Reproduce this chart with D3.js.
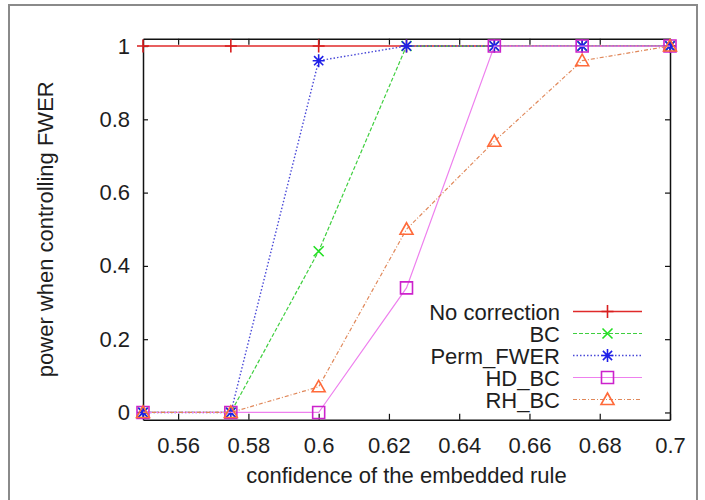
<!DOCTYPE html>
<html>
<head>
<meta charset="utf-8">
<script src="https://cdn.jsdelivr.net/npm/d3@7"></script>
<style>
  body { margin: 0; background: #fff; }
  svg text { font-family: "Liberation Sans", Arial, sans-serif; fill: #1e1e1e; }
</style>
</head>
<body>
<div id="chart"></div>
<script>
// data
const confidence = [0.55, 0.575, 0.6, 0.625, 0.65, 0.675, 0.7];
const noCorrection = [1, 1, 1, 1, 1, 1, 1];
const bc = [0, 0, 0.44, 1, 1, 1, 1];
const permFwer = [0, 0, 0.96, 1, 1, 1, 1];
const hdBc = [0, 0, 0, 0.34, 1, 1, 1];
const rhBc = [0, 0, 0.07, 0.5, 0.74, 0.96, 1];
const seriesNames = ["No correction", "BC", "Perm_FWER", "HD_BC", "RH_BC"];
const xTicks = [0.56, 0.58, 0.6, 0.62, 0.64, 0.66, 0.68, 0.7];
const yTicks = [0, 0.2, 0.4, 0.6, 0.8, 1];

const width = 705, height = 500;
const plotLeft = 143, plotRight = 670, plotTop = 38.7, plotBottom = 419.8;

const svg = d3.select("#chart")
  .append("svg")
  .attr("width", width)
  .attr("height", height);

// outer grey frame of the original figure
svg.append("rect")
  .attr("x", 9).attr("y", 5)
  .attr("width", 688).attr("height", 520)
  .attr("fill", "none")
  .attr("stroke", "#8a8a8a")
  .attr("stroke-width", 2);

const x = d3.scaleLinear().domain([0.55, 0.7]).range([plotLeft, plotRight]);
const y = d3.scaleLinear().domain([-0.02, 1.02]).range([plotBottom, plotTop]);

const fmt = d3.format("~g");

function styleAxis(g) {
  g.select(".domain").attr("stroke", "#111").attr("stroke-width", 1.5);
  g.selectAll(".tick line").attr("stroke", "#111").attr("stroke-width", 1.2);
  g.selectAll(".tick text")
    .style("font-size", "22px")
    .style("font-family", "'Liberation Sans', Arial, sans-serif")
    .attr("fill", "#1e1e1e");
}

svg.append("g")
  .attr("transform", `translate(0,${plotBottom})`)
  .call(d3.axisBottom(x).tickValues(xTicks).tickFormat(fmt).tickSize(-6).tickSizeOuter(0).tickPadding(10))
  .call(styleAxis)
  .selectAll(".tick text").attr("dy", "1.05em");

svg.append("g")
  .attr("transform", `translate(0,${plotTop})`)
  .call(d3.axisTop(x).tickValues(xTicks).tickFormat("").tickSize(-6).tickSizeOuter(0))
  .call(styleAxis);

svg.append("g")
  .attr("transform", `translate(${plotLeft},0)`)
  .call(d3.axisLeft(y).tickValues(yTicks).tickFormat(fmt).tickSize(-5).tickSizeOuter(0).tickPadding(13))
  .call(styleAxis);

svg.append("g")
  .attr("transform", `translate(${plotRight},0)`)
  .call(d3.axisRight(y).tickValues(yTicks).tickFormat("").tickSize(-5).tickSizeOuter(0))
  .call(styleAxis);

// axis titles
svg.append("text")
  .attr("x", (plotLeft + plotRight) / 2)
  .attr("y", 483)
  .attr("text-anchor", "middle")
  .style("font-size", "22px")
  .text("confidence of the embedded rule");

svg.append("text")
  .attr("transform", `translate(53,${(plotTop + plotBottom) / 2}) rotate(-90)`)
  .attr("text-anchor", "middle")
  .style("font-size", "22px")
  .text("power when controlling FWER");

// markers
const markers = {
  plus: "M-6,0H6M0,-6.5V6.5",
  cross: "M-5,-5L5,5M-5,5L5,-5",
  star: "M-6,0H6M0,-6.5V6.5M-4.6,-4.6L4.6,4.6M-4.6,4.6L4.6,-4.6",
  square: "M-6,-6H6V6H-6Z",
  triangle: "M0,-6.5L6.5,5H-6.5Z"
};

const series = [
  { name: seriesNames[0], values: noCorrection, line: "#e02a2a", mark: "#d81e1e", dash: null, lw: 1.6, shape: "plus" },
  { name: seriesNames[1], values: bc, line: "#3fcf3f", mark: "#22e022", dash: "4,2", lw: 1.2, shape: "cross" },
  { name: seriesNames[2], values: permFwer, line: "#4a4ad8", mark: "#1f1fe8", dash: "1.5,2", lw: 1.4, shape: "star" },
  { name: seriesNames[3], values: hdBc, line: "#ee80ee", mark: "#cc22cc", dash: null, lw: 1.2, shape: "square" },
  { name: seriesNames[4], values: rhBc, line: "#e0885a", mark: "#ff6a3a", dash: "4,2,1,2", lw: 1.2, shape: "triangle" }
];

const line = d3.line()
  .x(d => x(d[0]))
  .y(d => y(d[1]));

series.forEach(s => {
  const pts = confidence.map((c, i) => [c, s.values[i]]);
  const g = svg.append("g");
  g.append("path")
    .attr("d", line(pts))
    .attr("fill", "none")
    .attr("stroke", s.line)
    .attr("stroke-width", s.lw)
    .attr("stroke-dasharray", s.dash);
  g.selectAll("path.mk")
    .data(pts)
    .enter()
    .append("path")
    .attr("class", "mk")
    .attr("transform", d => `translate(${x(d[0])},${y(d[1])})`)
    .attr("d", markers[s.shape])
    .attr("fill", "none")
    .attr("stroke", s.mark)
    .attr("stroke-width", 1.6);
});

// legend
const legend = svg.append("g");
series.forEach((s, i) => {
  const cy = 311.5 + i * 22;
  legend.append("text")
    .attr("x", 560)
    .attr("y", cy + 8)
    .attr("text-anchor", "end")
    .style("font-size", "22px")
    .text(s.name);
  legend.append("line")
    .attr("x1", 573).attr("x2", 642)
    .attr("y1", cy).attr("y2", cy)
    .attr("stroke", s.line)
    .attr("stroke-width", s.lw)
    .attr("stroke-dasharray", s.dash);
  legend.append("path")
    .attr("transform", `translate(607.5,${cy})`)
    .attr("d", markers[s.shape])
    .attr("fill", "none")
    .attr("stroke", s.mark)
    .attr("stroke-width", 1.6);
});
</script>
</body>
</html>
